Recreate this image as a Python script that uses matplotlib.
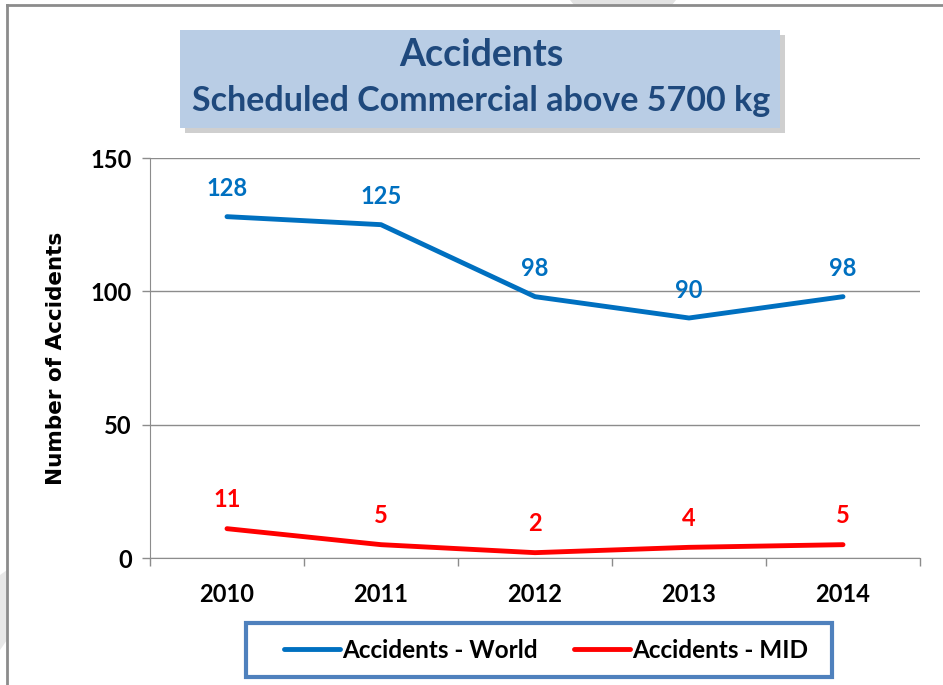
import matplotlib.pyplot as plt
from matplotlib.patches import Rectangle, Polygon
from matplotlib.lines import Line2D

years = ["2010", "2011", "2012", "2013", "2014"]
world = [128, 125, 98, 90, 98]
mid = [11, 5, 2, 4, 5]

blue = "#0070C0"
red = "#FF0000"
navy = "#1F497D"
grey = "#8C8C8C"

fig = plt.figure(figsize=(9.43, 6.85), dpi=100)
W, H = 943, 685

def fx(px):
    return px / W

def fy(py):
    return 1 - py / H

# slide frame (top and left edges) and a bit of the watermark
fig.add_artist(Polygon([(fx(570), fy(0)), (fx(676), fy(0)), (fx(672), fy(5)), (fx(574), fy(5))],
                       transform=fig.transFigure, fc="#E3E3E3", ec="none"))
fig.add_artist(Polygon([(fx(0), fy(575)), (fx(7), fy(570)), (fx(7), fy(640)), (fx(0), fy(650))],
                       transform=fig.transFigure, fc="#E8E8E8", ec="none"))
fig.add_artist(Line2D([fx(7), fx(943)], [fy(5), fy(5)], transform=fig.transFigure, color=grey, lw=2))
fig.add_artist(Line2D([fx(7), fx(7)], [fy(5), fy(685)], transform=fig.transFigure, color=grey, lw=2))

ax = fig.add_axes([fx(150), fy(558), fx(770), (558 - 158) / H])
x = range(len(years))
ax.plot(x, world, color=blue, lw=3.5, solid_capstyle="round", label="Accidents - World")
ax.plot(x, mid, color=red, lw=3.5, solid_capstyle="round", label="Accidents - MID")

for i in x:
    ax.annotate(str(world[i]), (i, world[i]), xytext=(0, 20), textcoords="offset points",
                ha="center", va="center", color=blue, fontsize=17, fontweight="bold", family="Lato")
    ax.annotate(str(mid[i]), (i, mid[i]), xytext=(0, 21), textcoords="offset points",
                ha="center", va="center", color=red, fontsize=17, fontweight="bold", family="Lato")

ax.set_xlim(-0.5, 4.5)
ax.set_ylim(0, 150)
ax.set_yticks([0, 50, 100, 150])
ax.set_xticks(list(x))
ax.set_xticklabels(years)
ax.set_xticks([i - 0.5 for i in range(len(years) + 1)], minor=True)
ax.tick_params(axis="x", which="major", length=0, pad=18)
ax.tick_params(axis="x", which="minor", length=6, color=grey, width=1)
ax.tick_params(axis="y", length=6, color=grey, width=1, pad=7)
for lab in ax.get_xticklabels() + ax.get_yticklabels():
    lab.set_family("Lato")
    lab.set_fontweight("bold")
    lab.set_fontsize(17)
ax.yaxis.grid(True, color=grey, lw=1)
ax.set_axisbelow(True)
for s in ["top", "right"]:
    ax.spines[s].set_visible(False)
ax.spines["left"].set_color(grey)
ax.spines["bottom"].set_color(grey)
ax.set_ylabel("Number of Accidents", fontsize=15.5, fontweight="bold", family="DejaVu Sans", labelpad=18)

# title box with shadow
fig.add_artist(Rectangle((fx(185), fy(133)), fx(600), 98 / H, transform=fig.transFigure,
                         fc="#A0A0A0", ec="none", alpha=0.5))
fig.add_artist(Rectangle((fx(180), fy(128)), fx(600), 98 / H, transform=fig.transFigure,
                         fc="#B9CDE5", ec="none"))
fig.text(fx(481), fy(55), "Accidents", ha="center", va="center", color=navy,
         fontsize=27, fontweight="bold", family="Lato")
fig.text(fx(481), fy(101), "Scheduled Commercial above 5700 kg", ha="center", va="center",
         color=navy, fontsize=24.5, fontweight="bold", family="Lato")

# legend box
fig.add_artist(Rectangle((fx(246), fy(677)), fx(586), 54 / H, transform=fig.transFigure,
                         fill=False, ec="#4F81BD", lw=3))
fig.legend(loc="center", bbox_to_anchor=(fx(546), fy(650)), ncol=2, frameon=False,
           prop={"family": "Lato", "weight": "bold", "size": 17.5},
           handlelength=2.3, handletextpad=0.1, columnspacing=1.5)

plt.savefig("out.png", dpi=100)
